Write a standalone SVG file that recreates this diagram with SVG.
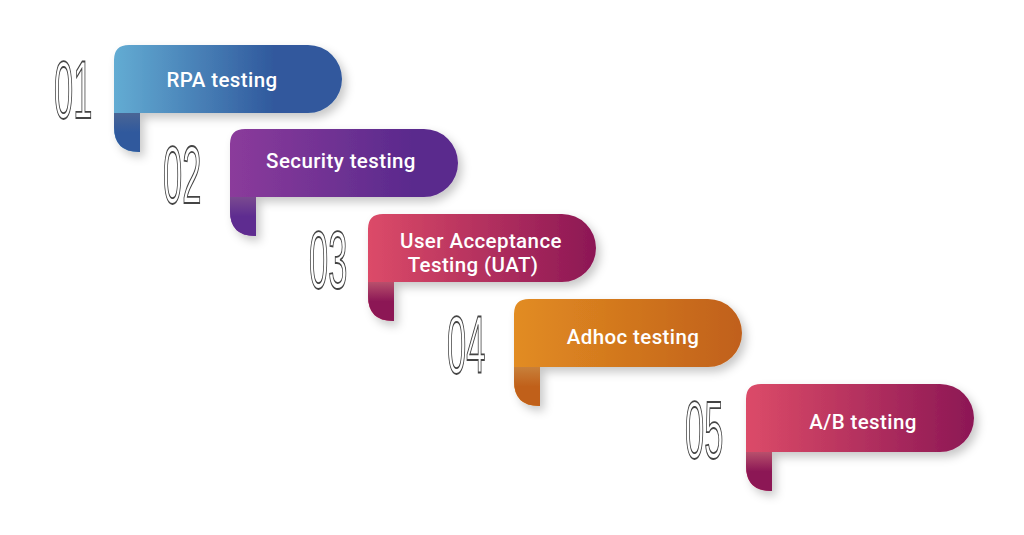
<svg xmlns="http://www.w3.org/2000/svg" width="1024" height="535" viewBox="0 0 1024 535">
<defs>
<linearGradient id="g1" x1="0" x2="1" y1="0" y2="0"><stop offset="0" stop-color="#63acd3"/><stop offset="0.7" stop-color="#30599d"/></linearGradient>
<linearGradient id="g2" x1="0" x2="1"><stop offset="0" stop-color="#8b3b9b"/><stop offset="0.8" stop-color="#5a2a8d"/></linearGradient>
<linearGradient id="g3" x1="0" x2="1"><stop offset="0" stop-color="#dc4b68"/><stop offset="1" stop-color="#8c1755"/></linearGradient>
<linearGradient id="g4" x1="0" x2="1"><stop offset="0" stop-color="#e28c22"/><stop offset="1" stop-color="#c0601a"/></linearGradient>
<linearGradient id="t1" x1="0" x2="0" y1="0" y2="1"><stop offset="0" stop-color="#4a6595"/><stop offset="0.5" stop-color="#30599d"/></linearGradient>
<linearGradient id="t2" x1="0" x2="0" y1="0" y2="1"><stop offset="0" stop-color="#7a4a90"/><stop offset="0.5" stop-color="#5e2c90"/></linearGradient>
<linearGradient id="t3" x1="0" x2="0" y1="0" y2="1"><stop offset="0" stop-color="#b8506c"/><stop offset="0.5" stop-color="#8c1755"/></linearGradient>
<linearGradient id="t4" x1="0" x2="0" y1="0" y2="1"><stop offset="0" stop-color="#c8803a"/><stop offset="0.5" stop-color="#c0601a"/></linearGradient>
<filter id="sh" x="-20%" y="-30%" width="140%" height="170%"><feDropShadow dx="4" dy="5" stdDeviation="5" flood-color="#000" flood-opacity="0.22"/></filter>
<path id="body" d="M0,15 Q0,0 15,0 H194 A34,34 0 0 1 194,68 H26 V107 H25 Q0,107 0,82 Z"/>
<path id="tail" d="M0,68 H26 V107 H25 Q0,107 0,82 Z"/>
</defs>
<style>
.lbl{font-family:Roboto,"Liberation Sans",sans-serif;font-weight:500;font-size:20.5px;letter-spacing:0.4px;fill:#fff;text-anchor:middle}
.num{font-family:"Liberation Sans",sans-serif;font-size:82px;fill:#fff;stroke:#444;stroke-width:1.8}
</style>
<rect width="1024" height="535" fill="#fff"/>
<g id="node1" transform="translate(114,45)">
<text class="num" transform="translate(-60,73) scale(0.42,1)">01</text>
<use href="#body" fill="url(#g1)" filter="url(#sh)"/><use href="#tail" fill="url(#t1)"/>
<text class="lbl" x="108" y="42">RPA testing</text></g>
<g id="node2" transform="translate(230,129)">
<text class="num" transform="translate(-67,74) scale(0.42,1)">02</text>
<use href="#body" fill="url(#g2)" filter="url(#sh)"/><use href="#tail" fill="url(#t2)"/>
<text class="lbl" x="111" y="39">Security testing</text></g>
<g id="node3" transform="translate(368,214)">
<text class="num" transform="translate(-59,74) scale(0.42,1)">03</text>
<use href="#body" fill="url(#g3)" filter="url(#sh)"/><use href="#tail" fill="url(#t3)"/>
<text class="lbl" x="113" y="34">User Acceptance</text><text class="lbl" x="105" y="58">Testing (UAT)</text></g>
<g id="node4" transform="translate(514,299)">
<text class="num" transform="translate(-67,74) scale(0.42,1)">04</text>
<use href="#body" fill="url(#g4)" filter="url(#sh)"/><use href="#tail" fill="url(#t4)"/>
<text class="lbl" x="119" y="45">Adhoc testing</text></g>
<g id="node5" transform="translate(746,384)">
<text class="num" transform="translate(-61,74) scale(0.42,1)">05</text>
<use href="#body" fill="url(#g3)" filter="url(#sh)"/><use href="#tail" fill="url(#t3)"/>
<text class="lbl" x="117" y="45">A/B testing</text></g>
<g id="connectors"/>
</svg>
